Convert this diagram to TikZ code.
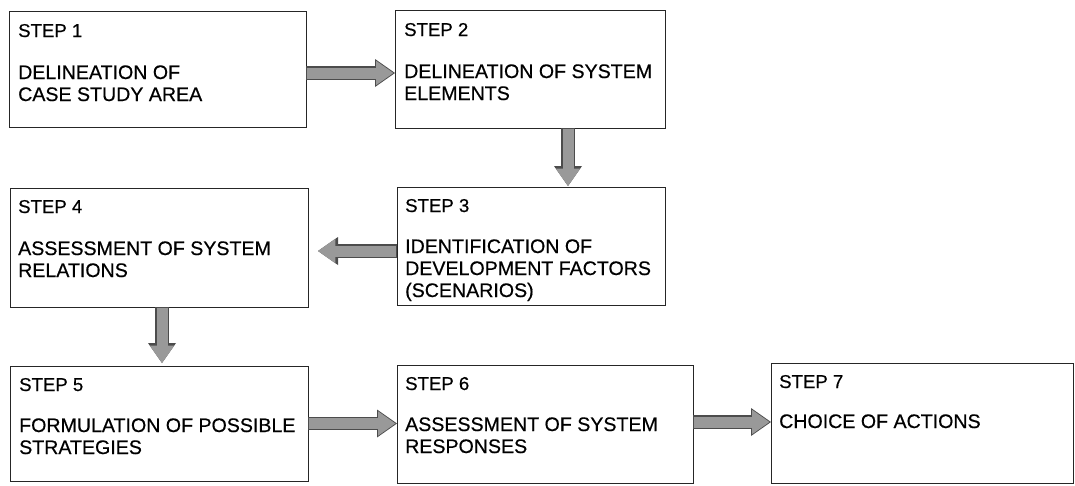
\documentclass[tikz,border=0pt]{standalone}
\usepackage{fontspec}
\setmainfont[UprightFeatures={FakeBold=0.5}]{Liberation Sans}
\usetikzlibrary{arrows.meta,calc}

% thick two-tone block arrows: a dark outline pass, then a grey fill pass
\tikzset{
  box/.style={draw=black!85, line width=1pt, inner sep=0pt, outer sep=0pt,
    anchor=north west},
  steplabel/.style={anchor=base west, inner sep=0pt,
    font=\fontsize{18.6}{22}\selectfont},
  steptext/.style={anchor=base west, inner sep=0pt,
    font=\fontsize{19.6}{22}\selectfont},
  fatouter/.style={draw=black!70, line width=13.4pt,
    -{Triangle[length=20pt,width=28pt,line width=0pt]}},
  fatinner/.style={draw=black!40, line width=11pt,
    shorten >=1.6pt, shorten <=0.7pt,
    -{Triangle[length=17.4pt,width=24.5pt,line width=0pt]}},
}
\newcommand\fatlink[3][]{%
  \draw[fatouter,#1] #2 -- #3;
  \draw[fatinner,#1] #2 -- #3;}
\newcommand\boxlines[1]{\begin{tabular}[t]{@{}l@{}}#1\end{tabular}}

\begin{document}
\begin{tikzpicture}[x=1pt,y=-1pt]
\useasboundingbox (0,0) rectangle (1075,485);

% boxes
\node[box, minimum width=297pt, minimum height=116pt] (b1) at (9,11) {};
\node[box, minimum width=270pt, minimum height=118pt] (b2) at (395,10) {};
\node[box, minimum width=268pt, minimum height=118pt] (b3) at (397,187) {};
\node[box, minimum width=298pt, minimum height=119pt] (b4) at (10,188) {};
\node[box, minimum width=298pt, minimum height=115pt] (b5) at (10,366) {};
\node[box, minimum width=296pt, minimum height=118pt] (b6) at (397,365) {};
\node[box, minimum width=302pt, minimum height=120pt] (b7) at (771,363) {};

% block arrows between the steps
\fatlink{([yshift=-4pt]b1.east)}{([yshift=-4pt]b1.east -| b2.west)}
\fatlink[shorten >=1pt]{([xshift=38pt]b2.south)}{([xshift=38pt]b2.south |- b3.north)}
\fatlink[shorten >=10pt]{([yshift=-5pt]b3.west)}{([yshift=-5pt]b3.west -| b4.east)}
\fatlink[shorten >=3pt]{([xshift=3pt]b4.south)}{([xshift=3pt]b4.south |- b5.north)}
\fatlink{(b5.east)}{(b5.east -| b6.west)}
\fatlink{([yshift=2pt]b6.east)}{([yshift=2pt]b6.east -| b7.west)}

% texts
\node[steplabel] (s1) at ($(b1.north west)+(9,26)$) {STEP 1};
\node[steptext]  (t1) at ($(b1.north west)+(9,68)$)
  {\boxlines{DELINEATION OF\\CASE STUDY AREA}};
\node[steplabel] (s2) at ($(b2.north west)+(9,26)$) {STEP 2};
\node[steptext]  (t2) at ($(b2.north west)+(9,68)$)
  {\boxlines{DELINEATION OF SYSTEM\\ELEMENTS}};
\node[steplabel] (s3) at ($(b3.north west)+(8,25)$) {STEP 3};
\node[steptext]  (t3) at ($(b3.north west)+(8,66)$)
  {\boxlines{IDENTIFICATION OF\\DEVELOPMENT FACTORS\\(SCENARIOS)}};
\node[steplabel] (s4) at ($(b4.north west)+(8,25)$) {STEP 4};
\node[steptext]  (t4) at ($(b4.north west)+(8,67)$)
  {\boxlines{ASSESSMENT OF SYSTEM\\RELATIONS}};
\node[steplabel] (s5) at ($(b5.north west)+(9,25)$) {STEP 5};
\node[steptext]  (t5) at ($(b5.north west)+(9,66)$)
  {\boxlines{FORMULATION OF POSSIBLE\\STRATEGIES}};
\node[steplabel] (s6) at ($(b6.north west)+(8,25)$) {STEP 6};
\node[steptext]  (t6) at ($(b6.north west)+(8,66)$)
  {\boxlines{ASSESSMENT OF SYSTEM\\RESPONSES}};
\node[steplabel] (s7) at ($(b7.north west)+(8,25)$) {STEP 7};
\node[steptext]  (t7) at ($(b7.north west)+(8,65)$)
  {\boxlines{CHOICE OF ACTIONS}};
\end{tikzpicture}
\end{document}
